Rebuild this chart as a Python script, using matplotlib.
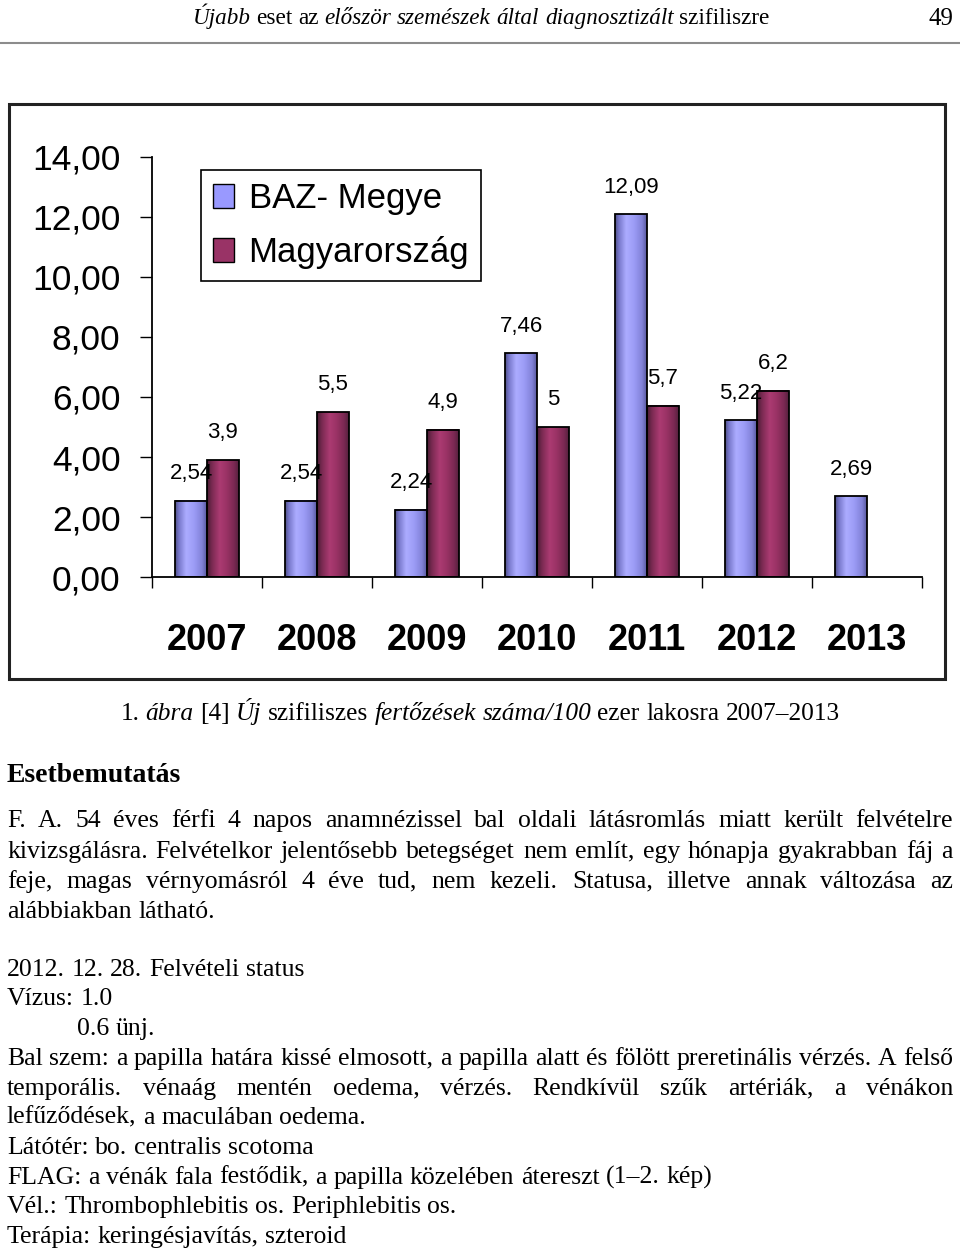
import numpy as np
import matplotlib.pyplot as plt
from matplotlib.patches import Rectangle, Patch
from matplotlib.lines import Line2D
from matplotlib.colors import LinearSegmentedColormap

# chart data
years = ['2007', '2008', '2009', '2010', '2011', '2012', '2013']
baz = [2.54, 2.54, 2.24, 7.46, 12.09, 5.22, 2.69]
hun = [3.9, 5.5, 4.9, 5.0, 5.7, 6.2, np.nan]
baz_labels = ['2,54', '2,54', '2,24', '7,46', '12,09', '5,22', '2,69']
hun_labels = ['3,9', '5,5', '4,9', '5', '5,7', '6,2', '']
series_names = ['BAZ- Megye', 'Magyarország']
yticks = [0, 2, 4, 6, 8, 10, 12, 14]
ytick_labels = ['0,00', '2,00', '4,00', '6,00', '8,00', '10,00', '12,00', '14,00']

# page text
header = [('Újabb', 'italic'), ('eset', 'normal'), ('az', 'normal'),
          ('először', 'italic'), ('szemészek', 'italic'), ('által', 'italic'),
          ('diagnosztizált', 'italic'), ('szifiliszre', 'normal')]
page_no = '49'
caption = [('1.', 'normal'), ('ábra', 'italic'), ('[4]', 'normal'), ('Új', 'italic'),
           ('szifiliszes', 'normal'), ('fertőzések', 'italic'), ('száma/100', 'italic'),
           ('ezer', 'normal'), ('lakosra', 'normal'), ('2007–2013', 'normal')]
section = 'Esetbemutatás'
body = [
    ('F. A. 54 éves férfi 4 napos anamnézissel bal oldali látásromlás miatt került felvételre', 'justify', 7),
    ('kivizsgálásra. Felvételkor jelentősebb betegséget nem említ, egy hónapja gyakrabban fáj a', 'justify', 7),
    ('feje, magas vérnyomásról 4 éve tud, nem kezeli. Statusa, illetve annak változása az', 'justify', 7),
    ('alábbiakban látható.', 'left', 7),
    ('2012. 12. 28. Felvételi status', 'left', 7),
    ('Vízus: 1.0', 'left', 7),
    ('0.6 ünj.', 'left', 77),
    ('Bal szem: a papilla határa kissé elmosott, a papilla alatt és fölött preretinális vérzés. A felső', 'justify', 7),
    ('temporális. vénaág mentén oedema, vérzés. Rendkívül szűk artériák, a vénákon', 'justify', 7),
    ('lefűződések, a maculában oedema.', 'left', 7),
    ('Látótér: bo. centralis scotoma', 'left', 7),
    ('FLAG: a vénák fala festődik, a papilla közelében átereszt (1–2. kép)', 'left', 7),
    ('Vél.: Thrombophlebitis os. Periphlebitis os.', 'left', 7),
    ('Terápia: keringésjavítás, szteroid', 'left', 7),
]
body_y = [820, 851, 881, 911, 969, 998, 1028, 1058, 1088, 1117, 1147, 1177, 1206, 1236]

W, H = 960, 1252
SERIF = 'Liberation Serif'
SANS = 'Liberation Sans'

fig = plt.figure(figsize=(W / 100, H / 100), dpi=100)
fig.patch.set_facecolor('white')
r = fig.canvas.get_renderer()


def fy(y):
    return 1 - y / H


def put_words(items, y, x0, x1=None, align='left', size=18.5):
    # y is the visual middle of the line; words sit on a common baseline
    base = y + 0.27 * size * 100 / 72
    texts = []
    for word, style in items:
        weight = 'bold' if style == 'bold' else 'normal'
        st = 'italic' if style == 'italic' else 'normal'
        texts.append(fig.text(0, fy(base), word, fontsize=size, family=SERIF,
                              style=st, weight=weight, va='baseline', ha='left'))
    widths = [t.get_window_extent(r).width for t in texts]
    a = fig.text(0, 0, 'x x', fontsize=size, family=SERIF)
    b = fig.text(0, 0, 'xx', fontsize=size, family=SERIF)
    sw = a.get_window_extent(r).width - b.get_window_extent(r).width
    a.remove()
    b.remove()
    if align == 'justify' and len(texts) > 1:
        gap = (x1 - x0 - sum(widths)) / (len(texts) - 1)
        start = x0
    elif align == 'center':
        gap = sw
        total = sum(widths) + sw * (len(texts) - 1)
        start = x0 - total / 2
    else:
        gap = sw
        start = x0
    x = start
    for t, w in zip(texts, widths):
        t.set_x(x / W)
        x += w + gap


# header
put_words(header, 18, 481, align='center', size=16.7)
fig.text(953 / W, fy(18 + 0.27 * 18 * 100 / 72), page_no, fontsize=18, family=SERIF,
         ha='right', va='baseline')
fig.add_artist(Line2D([0, 1], [fy(43), fy(43)], color='#8c8c8c', linewidth=1.5,
                      transform=fig.transFigure))

# chart frame
fig.add_artist(Rectangle((9 / W, fy(679)), 936 / W, 575 / H, transform=fig.transFigure,
                         fill=False, edgecolor='#222222', linewidth=2.2))

ax = fig.add_axes([152 / W, fy(577), 770 / W, 420 / H])
ax.set_facecolor('none')
centers = np.arange(len(years)) + 0.5
bw = 0.29

blue_cmap = LinearSegmentedColormap.from_list('b', [
    (0, '#50508a'), (0.12, '#7878cc'), (0.35, '#acacff'), (0.6, '#9c9cf6'),
    (0.85, '#8282d8'), (1, '#5a5aa0')])
red_cmap = LinearSegmentedColormap.from_list('r', [
    (0, '#4a1d33'), (0.15, '#7a2a52'), (0.4, '#ab3b72'), (0.6, '#9c3366'),
    (0.85, '#7c2953'), (1, '#56203e')])
grad = np.linspace(0, 1, 64).reshape(1, -1)

bars_b = ax.bar(centers - bw / 2, baz, bw, facecolor='none', edgecolor='black',
                linewidth=1.3, zorder=3)
bars_r = ax.bar(centers + bw / 2, hun, bw, facecolor='none', edgecolor='black',
                linewidth=1.3, zorder=3)
for bars, cmap in [(bars_b, blue_cmap), (bars_r, red_cmap)]:
    for p in bars:
        h = p.get_height()
        if np.isnan(h):
            continue
        x0 = p.get_x()
        ax.imshow(grad, extent=[x0, x0 + p.get_width(), 0, h], cmap=cmap,
                  aspect='auto', interpolation='bilinear', zorder=2)

for bars, labels in [(bars_b, baz_labels), (bars_r, hun_labels)]:
    for p, lbl in zip(bars, labels):
        if not lbl:
            continue
        ax.annotate(lbl, (p.get_x() + p.get_width() / 2, p.get_height()),
                    xytext=(0, 19.5), textcoords='offset points', ha='center',
                    va='center', fontsize=16, family=SANS)

ax.set_xlim(0, len(years))
ax.set_ylim(0, 14)
for s in ['top', 'right']:
    ax.spines[s].set_visible(False)
for s in ['left', 'bottom']:
    ax.spines[s].set_linewidth(1.3)
ax.set_yticks(yticks, ytick_labels)
ax.tick_params(axis='y', length=8.6, width=1, pad=14, labelsize=25.5)
for t in ax.get_yticklabels():
    t.set_family(SANS)
ax.set_xticks(centers, years)
ax.set_xticks(np.arange(len(years) + 1), minor=True)
ax.tick_params(axis='x', which='major', length=0, pad=33, labelsize=26)
ax.tick_params(axis='x', which='minor', length=8, width=1)
for t in ax.get_xticklabels():
    t.set_family(SANS)
    t.set_weight('bold')

handles = [Patch(facecolor='#9999ff', edgecolor='black'),
           Patch(facecolor='#993366', edgecolor='black')]
leg = ax.legend(handles, series_names, loc='upper left', bbox_to_anchor=(0.0636, 0.969),
                borderaxespad=0, prop={'family': SANS, 'size': 25}, frameon=True,
                fancybox=False, edgecolor='black', framealpha=1, handlelength=0.6,
                handleheight=0.68, handletextpad=0.42, labelspacing=0.6, borderpad=0.35)
leg.get_frame().set_linewidth(1.2)

# caption and body
put_words(caption, 713, 480, align='center', size=18.3)
fig.text(7 / W, fy(775 + 0.27 * 20 * 100 / 72), section, fontsize=20, family=SERIF,
         weight='bold', va='baseline')
for (line, align, x0), y in zip(body, body_y):
    put_words([(w, 'normal') for w in line.split()], y, x0, 953, align=align)

fig.savefig('out.png', dpi=100)
